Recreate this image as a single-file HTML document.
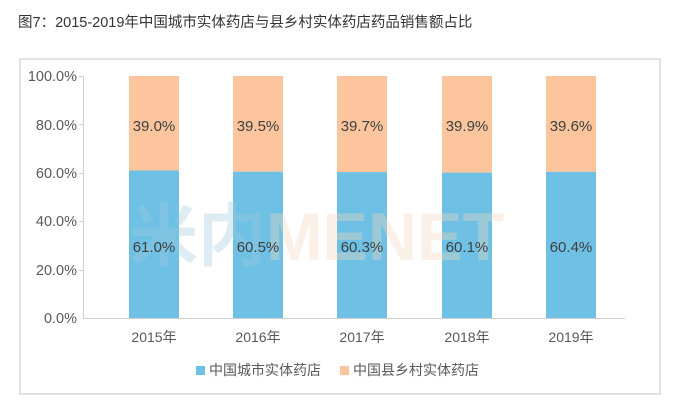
<!DOCTYPE html>
<html><head><meta charset="utf-8"><style>
body{margin:0;background:#fff;width:675px;height:409px;overflow:hidden;font-family:"Liberation Sans","Noto Sans CJK SC",sans-serif;}
</style></head><body>
<svg width="675" height="409" xmlns="http://www.w3.org/2000/svg" font-family="Liberation Sans, Noto Sans CJK SC, sans-serif">
<text x="18" y="27" font-size="14.5" fill="#333">图7：2015-2019年中国城市实体药店与县乡村实体药店药品销售额占比</text>
<rect x="20" y="59" width="640" height="335" fill="#fff" stroke="#d9d9d9" stroke-width="1.5"/>
<g font-size="14.5" fill="#595959" text-anchor="end">
<text x="77" y="81">100.0%</text><text x="77" y="130">80.0%</text><text x="77" y="178">60.0%</text>
<text x="77" y="226">40.0%</text><text x="77" y="275">20.0%</text><text x="77" y="323">0.0%</text>
</g>
<g stroke="#d0d0d0" stroke-width="1">
<line x1="83.5" y1="76" x2="83.5" y2="318"/><line x1="83" y1="318.5" x2="625" y2="318.5"/>
<line x1="79" y1="76.5" x2="83" y2="76.5"/><line x1="79" y1="124.5" x2="83" y2="124.5"/><line x1="79" y1="173.5" x2="83" y2="173.5"/>
<line x1="79" y1="221.5" x2="83" y2="221.5"/><line x1="79" y1="270.5" x2="83" y2="270.5"/>
</g>
<g>
<rect x="129" y="76" width="50" height="94.5" fill="#fcc59d"/><rect x="129" y="170.5" width="50" height="147.5" fill="#6ec1e4"/>
<rect x="233" y="76" width="50" height="95.7" fill="#fcc59d"/><rect x="233" y="171.7" width="50" height="146.3" fill="#6ec1e4"/>
<rect x="337" y="76" width="50" height="96.1" fill="#fcc59d"/><rect x="337" y="172.1" width="50" height="145.9" fill="#6ec1e4"/>
<rect x="442" y="76" width="50" height="96.6" fill="#fcc59d"/><rect x="442" y="172.6" width="50" height="145.4" fill="#6ec1e4"/>
<rect x="546" y="76" width="50" height="95.8" fill="#fcc59d"/><rect x="546" y="171.8" width="50" height="146.2" fill="#6ec1e4"/>
</g>
<text x="130" y="260" font-size="68" font-weight="bold" opacity="0.35"><tspan fill="#9cc9dc">米内</tspan><tspan fill="#f6d6bd">MENET</tspan></text>
<g font-size="15" fill="#404040" text-anchor="middle">
<text x="154" y="131">39.0%</text><text x="258" y="131">39.5%</text><text x="362" y="131">39.7%</text><text x="467" y="131">39.9%</text><text x="571" y="131">39.6%</text>
<text x="154" y="252">61.0%</text><text x="258" y="252">60.5%</text><text x="362" y="252">60.3%</text><text x="467" y="252">60.1%</text><text x="571" y="252">60.4%</text>
</g>
<g font-size="14" fill="#595959" text-anchor="middle">
<text x="154" y="342">2015年</text><text x="258" y="342">2016年</text><text x="362" y="342">2017年</text><text x="467" y="342">2018年</text><text x="571" y="342">2019年</text>
</g>
<rect x="196" y="366" width="9" height="9" fill="#6ec1e4"/>
<text x="209" y="375" font-size="14" fill="#595959">中国城市实体药店</text>
<rect x="340" y="366" width="9" height="9" fill="#fcc59d"/>
<text x="353" y="375" font-size="14" fill="#595959">中国县乡村实体药店</text>
</svg>
</body></html>
